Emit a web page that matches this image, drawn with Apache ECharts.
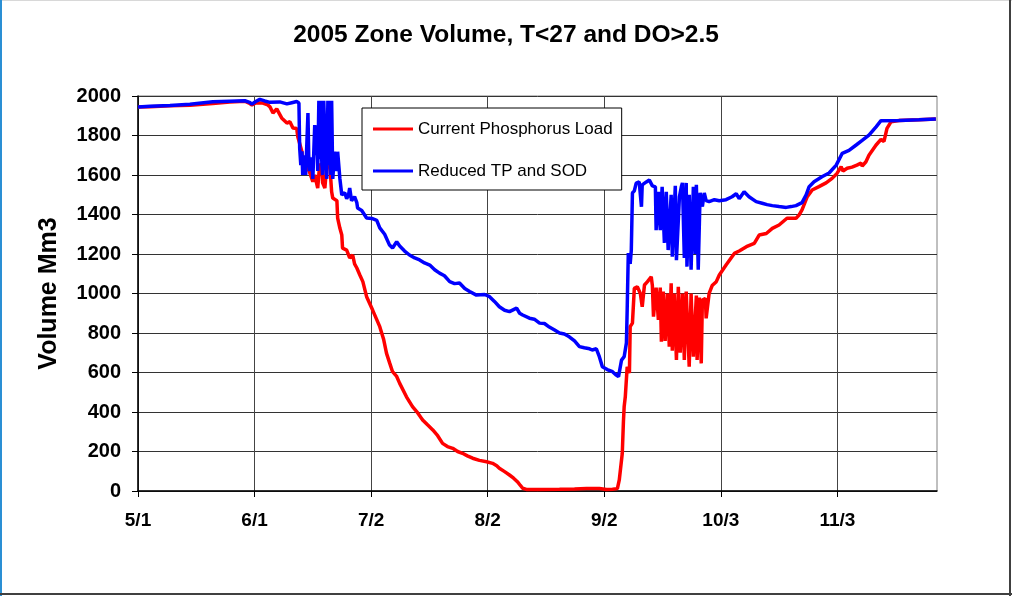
<!DOCTYPE html>
<html>
<head>
<meta charset="utf-8">
<title>2005 Zone Volume</title>
<script src="https://cdn.jsdelivr.net/npm/echarts@6/dist/echarts.min.js"></script>
<style>
  html, body { margin: 0; padding: 0; background: #fff; }
  #chart { width: 1012px; height: 596px; }
</style>
</head>
<body>
<div id="chart"></div>
<script>
// Season day counted from 5/1/2005; volumes in Mm3.
const seasonStart = [2005, 4, 1];
const tickDays = [0, 31, 62, 93, 124, 155, 186];
const yTicks = [0, 200, 400, 600, 800, 1000, 1200, 1400, 1600, 1800, 2000];
const seriesNames = ['Current Phosphorus Load', 'Reduced TP and SOD'];

// [day, volume] for the current phosphorus load scenario
const currentLoad = [
  [0, 1944], [3.2, 1946], [8.5, 1950], [13.8, 1953], [19.9, 1962], [24.4, 1970],
  [28.4, 1974], [29.7, 1962], [30.3, 1955], [31.3, 1965], [33.2, 1964], [34.5, 1955],
  [35.1, 1945], [35.6, 1950], [35.9, 1914], [36.9, 1935], [38.2, 1889], [39.6, 1863],
  [40.4, 1870], [41.2, 1838], [42.2, 1835], [42.5, 1794], [43.0, 1800], [43.6, 1718],
  [43.8, 1667], [44.4, 1617], [45.2, 1640], [45.7, 1610], [46.2, 1600], [46.5, 1566],
  [47.0, 1600], [47.5, 1590], [47.8, 1534], [48.3, 1650], [48.9, 1655], [49.1, 1560],
  [49.7, 1534], [50.2, 1650], [51.0, 1655], [51.5, 1515], [51.8, 1483], [52.9, 1470],
  [53.1, 1382], [53.7, 1330], [54.2, 1296], [54.4, 1230], [55.5, 1220], [56.3, 1180],
  [57.1, 1195], [57.6, 1150], [58.2, 1129], [59.0, 1094], [59.8, 1060], [60.8, 984],
  [62.4, 916], [64.3, 832], [65.3, 770], [66.1, 697], [66.9, 650], [67.7, 604],
  [68.8, 580], [69.6, 545], [71.4, 477], [73.0, 427], [74.4, 395], [75.7, 360],
  [77.0, 335], [78.4, 309], [79.7, 280], [81.0, 241], [82.3, 225], [83.7, 216],
  [85.0, 200], [86.3, 191], [87.6, 178], [89.0, 166], [90.8, 155], [92.7, 148],
  [94.3, 140], [95.4, 128], [96.1, 115], [97.5, 98], [98.8, 81], [99.9, 65],
  [100.9, 47], [101.7, 28], [102.3, 14], [103.3, 8], [106.8, 8], [112.1, 9],
  [116.1, 10], [119.3, 13], [122.7, 13], [124.6, 8], [126.2, 9], [127.5, 12],
  [128.0, 56], [128.8, 191], [129.1, 350], [129.3, 427], [129.6, 477], [129.9, 480],
  [130.1, 629], [130.7, 597], [130.9, 832], [131.2, 832], [131.5, 850], [132.0, 1026],
  [132.8, 1034], [133.6, 1000], [134.1, 933], [134.7, 1043], [135.5, 1060], [136.5, 1085],
  [136.8, 1040], [137.1, 883], [137.8, 1030], [138.4, 866], [138.9, 1030], [139.2, 756],
  [139.7, 1010], [140.2, 760], [140.8, 1000], [141.3, 731], [141.8, 1052], [142.1, 710],
  [142.6, 1000], [143.2, 663], [143.7, 1034], [144.2, 700], [144.8, 1000], [145.3, 663],
  [145.8, 1010], [146.6, 629], [147.1, 1000], [147.7, 680], [148.5, 990], [148.7, 663],
  [149.3, 980], [149.8, 646], [150.1, 967], [150.9, 975], [151.1, 874], [151.9, 1001],
  [152.7, 1040], [153.8, 1060], [154.6, 1094], [156.4, 1144], [158.6, 1203], [159.9, 1215],
  [161.8, 1237], [163.9, 1254], [165.2, 1296], [167.1, 1304], [168.7, 1330], [170.5, 1347],
  [172.6, 1381], [175.0, 1381], [175.8, 1397], [176.6, 1423], [178.0, 1490], [179.3, 1524],
  [181.1, 1541], [183.0, 1560], [184.6, 1583], [185.9, 1608], [187.0, 1642], [187.5, 1620],
  [188.6, 1634], [189.9, 1640], [191.2, 1650], [192.3, 1660], [192.6, 1645], [193.6, 1667],
  [194.4, 1700], [196.3, 1752], [197.6, 1780], [198.4, 1770], [198.9, 1760], [199.2, 1836],
  [200.3, 1870], [202.4, 1876], [207.7, 1880], [212.2, 1884]
];

// [day, volume] for the reduced TP and SOD scenario
const reducedTpSod = [
  [0, 1944], [3.2, 1948], [8.5, 1952], [13.8, 1958], [19.9, 1971], [24.4, 1974],
  [28.4, 1976], [29.7, 1968], [30.3, 1959], [31.3, 1972], [32.4, 1983], [33.7, 1975],
  [35.1, 1968], [37.7, 1970], [39.6, 1960], [40.9, 1966], [42.2, 1972], [42.8, 1965],
  [43.0, 1736], [43.3, 1650], [43.6, 1720], [43.8, 1600], [44.4, 1700], [44.6, 1600],
  [45.2, 1914], [45.4, 1700], [45.7, 1620], [46.2, 1690], [46.5, 1580], [47.0, 1853],
  [47.3, 1700], [47.5, 1850], [47.8, 1620], [48.1, 1976], [48.3, 1680], [48.6, 1976],
  [48.9, 1650], [49.1, 1600], [49.4, 1976], [49.9, 1680], [50.2, 1580], [50.5, 1976],
  [50.7, 1650], [51.0, 1976], [51.3, 1600], [51.5, 1976], [51.8, 1580], [52.3, 1718],
  [52.9, 1620], [53.1, 1718], [53.7, 1580], [54.2, 1499], [54.7, 1490], [55.0, 1510],
  [55.5, 1480], [56.0, 1500], [56.3, 1534], [56.8, 1470], [57.6, 1490], [58.2, 1460],
  [58.4, 1433], [59.5, 1420], [60.8, 1382], [62.2, 1380], [63.5, 1370], [64.3, 1332],
  [65.6, 1300], [66.9, 1245], [67.7, 1230], [68.8, 1262], [69.6, 1240], [70.9, 1215],
  [72.2, 1195], [73.6, 1180], [74.9, 1170], [76.2, 1155], [77.6, 1144], [78.9, 1120],
  [80.2, 1103], [81.5, 1090], [82.9, 1060], [84.2, 1050], [85.5, 1053], [86.9, 1025],
  [88.2, 1010], [90.0, 992], [92.2, 995], [93.5, 984], [94.8, 960], [96.1, 933],
  [97.5, 915], [98.8, 908], [100.7, 926], [101.5, 900], [102.3, 891], [104.1, 875],
  [105.4, 870], [106.8, 850], [108.1, 848], [109.4, 830], [110.8, 815], [112.1, 800],
  [113.4, 795], [114.7, 781], [116.1, 760], [117.4, 731], [118.7, 725], [120.1, 720],
  [120.8, 714], [121.9, 720], [122.7, 680], [123.5, 629], [124.8, 615], [126.2, 604],
  [127.0, 590], [127.8, 579], [128.6, 663], [129.3, 680], [129.9, 750], [130.1, 916],
  [130.4, 1205], [130.9, 1150], [131.2, 1220], [131.5, 1509], [132.0, 1520], [132.5, 1559],
  [133.3, 1565], [133.9, 1439], [134.1, 1550], [135.2, 1565], [136.0, 1575], [136.8, 1545],
  [137.6, 1540], [137.8, 1321], [138.4, 1515], [138.9, 1321], [139.4, 1540], [140.0, 1256],
  [140.5, 1515], [141.0, 1220], [141.8, 1500], [142.1, 1186], [142.9, 1545], [143.2, 1169],
  [144.0, 1490], [144.5, 1540], [144.8, 1560], [145.3, 1180], [145.8, 1560], [146.0, 1136],
  [146.6, 1500], [147.1, 1120], [147.7, 1540], [148.2, 1200], [148.5, 1550], [149.0, 1120],
  [149.5, 1510], [150.1, 1440], [150.6, 1509], [151.1, 1470], [151.9, 1465], [153.3, 1475],
  [154.6, 1470], [156.4, 1475], [158.0, 1490], [159.1, 1505], [159.9, 1480], [161.2, 1515],
  [162.5, 1490], [164.4, 1465], [166.0, 1457], [167.3, 1450], [168.7, 1445], [170.5, 1440],
  [172.4, 1436], [173.7, 1440], [175.0, 1445], [176.6, 1460], [177.7, 1499], [178.5, 1541],
  [179.8, 1566], [181.9, 1591], [183.8, 1610], [185.7, 1650], [187.3, 1710], [189.1, 1725],
  [191.0, 1752], [192.6, 1775], [194.4, 1802], [196.3, 1844], [197.6, 1875], [202.4, 1876],
  [207.7, 1880], [212.2, 1884]
];

const fontFamily = '"Liberation Sans", Arial, sans-serif';

function dayLabel(v) {
  const d = new Date(seasonStart[0], seasonStart[1], seasonStart[2] + Math.round(v));
  return (d.getMonth() + 1) + '/' + d.getDate();
}

const chart = echarts.init(document.getElementById('chart'), null, { renderer: 'canvas' });

chart.setOption({
  backgroundColor: '#ffffff',
  animation: false,
  textStyle: { fontFamily: fontFamily },
  title: {
    text: '2005 Zone Volume, T<27 and DO>2.5',
    left: 'center',
    top: 18,
    textStyle: { fontFamily: fontFamily, fontSize: 24.5, fontWeight: 'bold', color: '#000' }
  },
  legend: {
    orient: 'vertical',
    left: 362,
    top: 108,
    padding: [11, 9, 9, 11],
    itemWidth: 40,
    itemHeight: 3,
    itemGap: 22,
    icon: 'rect',
    backgroundColor: '#ffffff',
    borderColor: '#000',
    borderWidth: 1,
    data: seriesNames,
    textStyle: { fontFamily: fontFamily, fontSize: 17, lineHeight: 20, color: '#000' }
  },
  grid: {
    left: 138,
    right: 75,
    top: 96,
    bottom: 105,
    show: true,
    borderColor: '#808080',
    borderWidth: 1
  },
  xAxis: {
    type: 'value',
    min: 0,
    max: 212.5,
    interval: 31,
    axisLine: { show: true, onZero: false, lineStyle: { color: '#000', width: 1.5 } },
    axisTick: { show: true, inside: false, length: 6, customValues: tickDays, lineStyle: { color: '#000' } },
    axisLabel: {
      customValues: tickDays,
      formatter: dayLabel,
      margin: 20,
      fontFamily: fontFamily,
      fontSize: 19,
      fontWeight: 'bold',
      color: '#000'
    },
    splitLine: { show: true, lineStyle: { color: '#444', width: 1 } }
  },
  yAxis: {
    type: 'value',
    min: 0,
    max: 2000,
    interval: 200,
    name: 'Volume Mm3',
    nameLocation: 'middle',
    nameGap: 76,
    nameTextStyle: { fontFamily: fontFamily, fontSize: 25, fontWeight: 'bold', color: '#000' },
    axisLine: { show: true, lineStyle: { color: '#000', width: 1.5 } },
    axisTick: { show: true, length: 6, customValues: yTicks, lineStyle: { color: '#000' } },
    axisLabel: {
      customValues: yTicks,
      formatter: function (v) { return String(v); },
      margin: 17,
      fontFamily: fontFamily,
      fontSize: 20,
      fontWeight: 'bold',
      color: '#000'
    },
    splitLine: { show: true, lineStyle: { color: '#333', width: 1 } }
  },
  series: [
    {
      name: seriesNames[0],
      type: 'line',
      data: currentLoad,
      showSymbol: false,
      symbol: 'none',
      color: '#ff0000',
      lineStyle: { color: '#ff0000', width: 3.5 }
    },
    {
      name: seriesNames[1],
      type: 'line',
      data: reducedTpSod,
      showSymbol: false,
      symbol: 'none',
      color: '#0000ff',
      lineStyle: { color: '#0000ff', width: 3.5 }
    }
  ],
  graphic: [
    { type: 'rect', shape: { x: 0, y: 0, width: 1012, height: 1 }, style: { fill: '#d8d8d8' }, silent: true },
    { type: 'rect', shape: { x: 0, y: 0, width: 2, height: 596 }, style: { fill: '#2a8fd4' }, silent: true },
    { type: 'rect', shape: { x: 1009, y: 0, width: 2, height: 596 }, style: { fill: '#404040' }, silent: true },
    { type: 'rect', shape: { x: 0, y: 593, width: 1012, height: 2 }, style: { fill: '#404040' }, silent: true }
  ]
});
</script>
</body>
</html>
